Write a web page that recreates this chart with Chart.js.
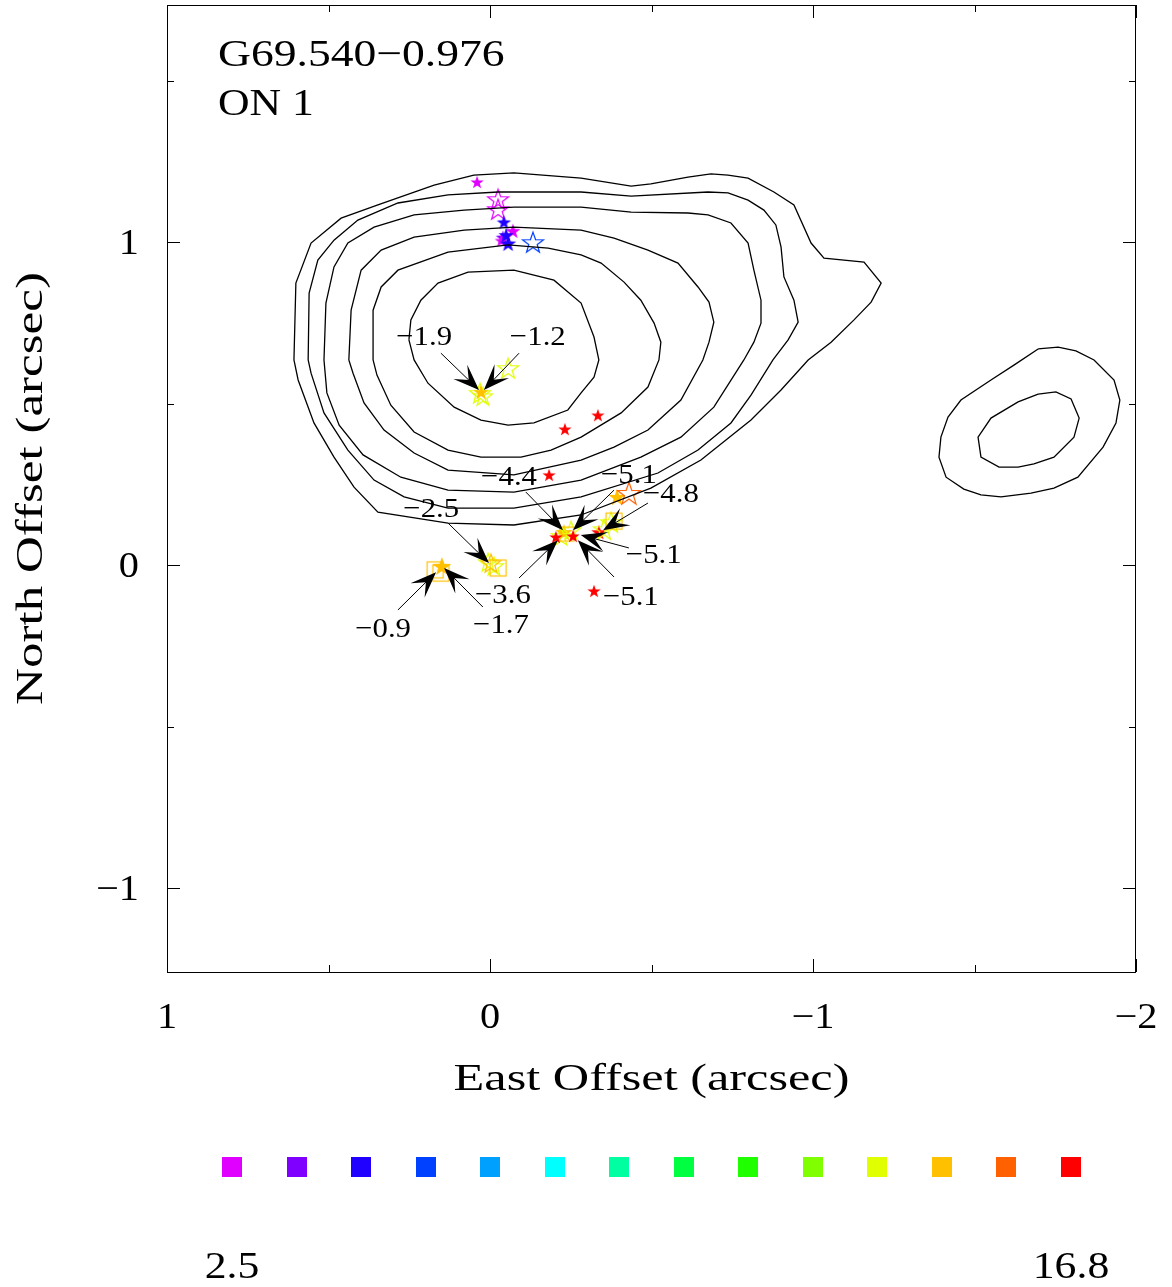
<!DOCTYPE html>
<html><head><meta charset="utf-8">
<script src="https://cdn.jsdelivr.net/npm/chart.js@4"></script>
<style>html,body{margin:0;padding:0;background:#fff}canvas{display:block}</style>
</head><body>
<canvas id="c" width="1172" height="1287"></canvas>
<script>
// ---------- DATA ----------
const titleLines = ['G69.540\u22120.976', 'ON 1'];
const xTitle = 'East Offset (arcsec)';
const yTitle = 'North Offset (arcsec)';
const xMajorTicks = [1, 0, -1, -2];
const xTickLabels = ['1', '0', '\u22121', '\u22122'];
const xMinorTicks = [0.5, -0.5, -1.5];
const yMajorTicks = [1, 0, -1];
const yTickLabels = ['1', '0', '\u22121'];
const yMinorTicks = [1.5, 0.5, -0.5];
const xRange = [-2, 1];
const yRange = [-1.26, 1.734];

const velocityColors = ['#E000FF','#8000FF','#2000FF','#0040FF','#00A0FF','#00FFFF','#00FFA0','#00FF40','#20FF00','#80FF00','#E0FF00','#FFC000','#FF6000','#FF0000'];
const velocityRangeLabels = ['2.5', '16.8'];

// contour levels (x = East offset, y = North offset, arcsec)
const contour1 = [[0.607,0.635],[0.601,0.873],[0.554,0.997],[0.461,1.074],[0.347,1.115],[0.173,1.176],[0.050,1.207],[-0.074,1.214],[-0.282,1.198],[-0.437,1.173],[-0.498,1.180],[-0.613,1.201],[-0.684,1.211],[-0.737,1.207],[-0.799,1.198],[-0.879,1.155],[-0.941,1.115],[-0.994,0.997],[-1.034,0.950],[-1.158,0.938],[-1.211,0.873],[-1.180,0.814],[-1.127,0.759],[-1.056,0.690],[-0.985,0.635],[-0.901,0.542],[-0.808,0.449],[-0.653,0.325],[-0.498,0.238],[-0.282,0.155],[-0.074,0.124],[0.130,0.130],[0.347,0.164],[0.421,0.241],[0.483,0.334],[0.545,0.440],[0.594,0.573]];
const contour2 = [[0.563,0.635],[0.560,0.842],[0.533,0.944],[0.483,1.006],[0.409,1.068],[0.285,1.121],[0.130,1.146],[-0.025,1.155],[-0.282,1.155],[-0.437,1.142],[-0.675,1.155],[-0.737,1.152],[-0.799,1.130],[-0.848,1.099],[-0.885,1.053],[-0.901,0.985],[-0.910,0.892],[-0.941,0.820],[-0.954,0.752],[-0.923,0.697],[-0.876,0.635],[-0.808,0.526],[-0.746,0.440],[-0.644,0.356],[-0.520,0.285],[-0.282,0.211],[-0.074,0.176],[0.130,0.176],[0.266,0.211],[0.359,0.263],[0.440,0.356],[0.514,0.471],[0.554,0.594]];
const contour3 = [[0.514,0.635],[0.508,0.811],[0.483,0.923],[0.440,0.997],[0.359,1.046],[0.235,1.084],[0.080,1.099],[-0.074,1.108],[-0.282,1.108],[-0.437,1.093],[-0.613,1.090],[-0.675,1.084],[-0.746,1.059],[-0.799,0.997],[-0.817,0.913],[-0.839,0.820],[-0.839,0.749],[-0.817,0.690],[-0.786,0.635],[-0.693,0.489],[-0.591,0.396],[-0.467,0.334],[-0.282,0.263],[-0.074,0.226],[0.130,0.232],[0.276,0.272],[0.393,0.341],[0.467,0.433],[0.505,0.533]];
const contour4 = [[0.437,0.635],[0.430,0.789],[0.399,0.913],[0.337,0.975],[0.235,1.015],[0.080,1.037],[-0.074,1.046],[-0.282,1.037],[-0.384,1.012],[-0.489,0.975],[-0.582,0.935],[-0.644,0.861],[-0.678,0.814],[-0.693,0.752],[-0.678,0.690],[-0.659,0.635],[-0.591,0.511],[-0.489,0.418],[-0.384,0.365],[-0.282,0.325],[-0.074,0.279],[0.130,0.294],[0.235,0.347],[0.328,0.418],[0.390,0.502],[0.424,0.594]];
const contour5 = [[0.362,0.635],[0.362,0.789],[0.337,0.861],[0.285,0.913],[0.130,0.969],[-0.056,0.991],[-0.180,0.981],[-0.282,0.960],[-0.344,0.935],[-0.415,0.876],[-0.467,0.820],[-0.508,0.749],[-0.529,0.690],[-0.523,0.635],[-0.489,0.551],[-0.406,0.471],[-0.282,0.396],[-0.189,0.356],[-0.096,0.334],[0.028,0.334],[0.130,0.356],[0.235,0.412],[0.307,0.495],[0.350,0.588]];
const contour6 = [[0.251,0.697],[0.245,0.759],[0.214,0.820],[0.161,0.873],[0.068,0.907],[-0.074,0.913],[-0.198,0.882],[-0.282,0.811],[-0.322,0.706],[-0.337,0.635],[-0.322,0.582],[-0.282,0.533],[-0.241,0.480],[-0.136,0.440],[-0.056,0.433],[0.028,0.449],[0.111,0.489],[0.192,0.563],[0.235,0.635]];
const contourEast1 = [[-1.697,0.669],[-1.759,0.675],[-1.814,0.663],[-1.870,0.635],[-1.932,0.573],[-1.950,0.511],[-1.938,0.440],[-1.898,0.365],[-1.820,0.272],[-1.746,0.238],[-1.675,0.223],[-1.582,0.211],[-1.520,0.217],[-1.467,0.235],[-1.412,0.272],[-1.390,0.334],[-1.396,0.396],[-1.418,0.458],[-1.458,0.511],[-1.551,0.573],[-1.622,0.619]];
const contourEast2 = [[-1.697,0.529],[-1.752,0.536],[-1.799,0.514],[-1.824,0.455],[-1.808,0.396],[-1.746,0.334],[-1.684,0.313],[-1.635,0.303],[-1.576,0.303],[-1.520,0.334],[-1.511,0.396],[-1.551,0.455],[-1.635,0.505]];
const contours = [contour1, contour2, contour3, contour4, contour5, contour6, contourEast1, contourEast2];

// maser spots
const spotX = [0.040,-0.025,-0.025,-0.043,-0.040,-0.071,-0.035,-0.050,-0.056,-0.133,-0.056,0.031,0.022,0.028,-0.232,-0.334,-0.183,-0.322,-0.337,0.149,0.170,0.152,0.006,-0.012,-0.003,-0.025,-0.229,-0.251,-0.220,-0.238,-0.204,-0.257,-0.353,-0.375,-0.384,-0.393,-0.430];
const spotY = [1.186,1.133,1.102,1.062,1.015,1.035,1.005,1.022,0.996,1.000,0.610,0.533,0.523,0.536,0.421,0.464,0.279,-0.080,0.102,-0.003,-0.015,-0.025,0.009,-0.003,0.006,-0.009,0.102,0.108,0.090,0.096,0.087,0.090,0.111,0.133,0.136,0.211,0.223];
const spotVelBin = [0,0,0,2,1,0,0,2,2,3,10,10,10,11,13,13,13,13,13,11,11,11,10,10,11,11,11,10,10,11,13,13,10,10,11,11,12];
const spotKind = ['f','o','o','f','f','f','f','f','f','o','o','o','o','f','f','f','f','f','f','f','s','s','o','o','o','s','f','o','o','s','f','f','o','o','s','f','o'];
const spotMarkerSize = [14,22,22,15,15,16,14,16,17,22,22,22,20,16,14,14,14,14,16,20,17,17,20,20,20,17,18,20,20,15,14,14,22,22,17,18,24];

// velocity labels with arrows (label centre, arrow tail, arrow head)
const labelText = ['\u22121.9','\u22121.2','\u22122.5','\u22124.4','\u22125.1','\u22124.8','\u22125.1','\u22125.1','\u22123.6','\u22121.7','\u22120.9'];
const labelX = [0.204,-0.148,0.182,-0.059,-0.430,-0.560,-0.507,-0.436,-0.040,-0.034,0.331];
const labelY = [0.712,0.712,0.180,0.279,0.285,0.226,0.037,-0.093,-0.087,-0.180,-0.192];
const tailX = [0.152,-0.090,0.130,-0.111,-0.384,-0.489,-0.430,-0.384,-0.090,0.022,0.285];
const tailY = [0.656,0.656,0.130,0.226,0.232,0.192,0.053,-0.037,-0.040,-0.130,-0.139];
const headX = [0.034,0.019,0.003,-0.226,-0.257,-0.350,-0.281,-0.272,-0.210,0.142,0.167];
const headY = [0.542,0.542,0.006,0.108,0.108,0.108,0.093,0.077,0.077,-0.009,-0.022];

// ---------- RENDER ----------
const FONT = '"Liberation Serif", "DejaVu Serif", serif';
function makeMarker(kind, color, size) {
  const pad = 3, c = document.createElement('canvas');
  c.width = c.height = size + pad * 2;
  const g = c.getContext('2d');
  const cx = c.width / 2, cy = c.height / 2, R = size / 2;
  g.lineWidth = 1.2; g.strokeStyle = color; g.fillStyle = color;
  if (kind === 's') {
    g.strokeRect(cx - R + 0.5, cy - R + 0.5, size - 1, size - 1);
    return c;
  }
  const r = R * 0.4;
  g.beginPath();
  for (let i = 0; i < 10; i++) {
    const a = -Math.PI / 2 + i * Math.PI / 5, rad = i % 2 ? r : R;
    const px = cx + rad * Math.cos(a), py = cy + 0.1 * R + rad * Math.sin(a);
    i ? g.lineTo(px, py) : g.moveTo(px, py);
  }
  g.closePath();
  if (kind === 'f') g.fill(); else g.stroke();
  return c;
}

function txt(ctx, s, x, y, size, sx, align, rot) {
  ctx.save();
  ctx.translate(x, y);
  if (rot) ctx.rotate(-Math.PI / 2);
  ctx.scale(sx, 1);
  ctx.font = size + 'px ' + FONT;
  ctx.fillStyle = '#000';
  ctx.textAlign = align;
  ctx.textBaseline = 'alphabetic';
  ctx.fillText(s, 0, 0);
  ctx.restore();
}

function arrow(ctx, x1, y1, x2, y2) {
  const dx = x2 - x1, dy = y2 - y1, L = Math.hypot(dx, dy), ux = dx / L, uy = dy / L;
  const h = 26, w = 10;
  ctx.strokeStyle = '#000'; ctx.fillStyle = '#000'; ctx.lineWidth = 1;
  ctx.beginPath(); ctx.moveTo(x1, y1); ctx.lineTo(x2 - ux * h * 0.5, y2 - uy * h * 0.5); ctx.stroke();
  const bx = x2 - ux * h, by = y2 - uy * h;
  ctx.beginPath();
  ctx.moveTo(x2, y2);
  ctx.lineTo(bx - uy * w, by + ux * w);
  ctx.lineTo(x2 - ux * h * 0.55, y2 - uy * h * 0.55);
  ctx.lineTo(bx + uy * w, by - ux * w);
  ctx.closePath(); ctx.fill();
}

const framePlugin = {
  id: 'frame',
  afterDatasetsDraw(chart) {
    const ctx = chart.ctx, xs = chart.scales.x, ys = chart.scales.y;
    for (let i = 0; i < labelText.length; i++) {
      arrow(ctx, xs.getPixelForValue(tailX[i]), ys.getPixelForValue(tailY[i]),
                 xs.getPixelForValue(headX[i]), ys.getPixelForValue(headY[i]));
      txt(ctx, labelText[i], xs.getPixelForValue(labelX[i]), ys.getPixelForValue(labelY[i]) + 10, 28, 1.1, 'center');
    }
  },
  afterDraw(chart) {
    const ctx = chart.ctx, a = chart.chartArea, xs = chart.scales.x, ys = chart.scales.y;
    ctx.save();
    ctx.strokeStyle = '#000'; ctx.lineWidth = 1;
    ctx.strokeRect(a.left + 0.5, a.top + 0.5, a.right - a.left - 1, a.bottom - a.top);
    ctx.beginPath();
    const tk = (v, len, isX) => {
      if (isX) {
        const p = Math.round(xs.getPixelForValue(v)) + 0.5;
        ctx.moveTo(p, a.bottom); ctx.lineTo(p, a.bottom - len);
        ctx.moveTo(p, a.top); ctx.lineTo(p, a.top + len);
      } else {
        const p = Math.round(ys.getPixelForValue(v)) + 0.5;
        ctx.moveTo(a.left, p); ctx.lineTo(a.left + len, p);
        ctx.moveTo(a.right, p); ctx.lineTo(a.right - len, p);
      }
    };
    xMajorTicks.forEach(v => tk(v, 13, true));
    xMinorTicks.forEach(v => tk(v, 7, true));
    yMajorTicks.forEach(v => tk(v, 13, false));
    yMinorTicks.forEach(v => tk(v, 7, false));
    ctx.stroke();
    xMajorTicks.forEach((v, i) => txt(ctx, xTickLabels[i], xs.getPixelForValue(v), a.bottom + 56, 36, 1.12, 'center'));
    yMajorTicks.forEach((v, i) => txt(ctx, yTickLabels[i], a.left - 28, ys.getPixelForValue(v) + 12, 36, 1.12, 'right'));
    txt(ctx, xTitle, (a.left + a.right) / 2, a.bottom + 118, 37, 1.36, 'center');
    txt(ctx, yTitle, 42, (a.top + a.bottom) / 2, 37, 1.38, 'center', true);
    txt(ctx, titleLines[0], a.left + 51, a.top + 61, 38, 1.2, 'left');
    txt(ctx, titleLines[1], a.left + 51, a.top + 110, 38, 1.15, 'left');
    const n = velocityColors.length, x0 = 232, x1 = 1071, yc = 1167, s = 20;
    velocityColors.forEach((c, i) => {
      const xc = x0 + (x1 - x0) * i / (n - 1);
      ctx.fillStyle = c; ctx.fillRect(Math.round(xc - s / 2), yc - s / 2, s, s);
    });
    txt(ctx, velocityRangeLabels[0], x0, 1278, 38, 1.15, 'center');
    txt(ctx, velocityRangeLabels[1], x1, 1278, 38, 1.15, 'center');
    ctx.restore();
  }
};

const datasets = contours.map(c => ({
  type: 'scatter', showLine: true, tension: 0, pointRadius: 0,
  borderColor: '#000', borderWidth: 1.3, fill: false,
  data: c.concat([c[0]]).map(p => ({x: p[0], y: p[1]}))
}));
datasets.push({
  type: 'scatter', showLine: false,
  data: spotX.map((x, i) => ({x: x, y: spotY[i]})),
  pointStyle: spotX.map((_, i) => makeMarker(spotKind[i], velocityColors[spotVelBin[i]], spotMarkerSize[i])),
  pointRadius: 10, pointHoverRadius: 10, clip: false
});

new Chart(document.getElementById('c'), {
  type: 'scatter',
  data: { datasets },
  options: {
    responsive: false, animation: false, devicePixelRatio: 1,
    layout: { autoPadding: false, padding: { left: 167, top: 5, right: 36, bottom: 315 } },
    plugins: { legend: { display: false }, tooltip: { enabled: false } },
    events: [],
    scales: {
      x: { type: 'linear', min: xRange[0], max: xRange[1], reverse: true, display: false },
      y: { type: 'linear', min: yRange[0], max: yRange[1], display: false }
    }
  },
  plugins: [framePlugin]
});
</script>
</body></html>
